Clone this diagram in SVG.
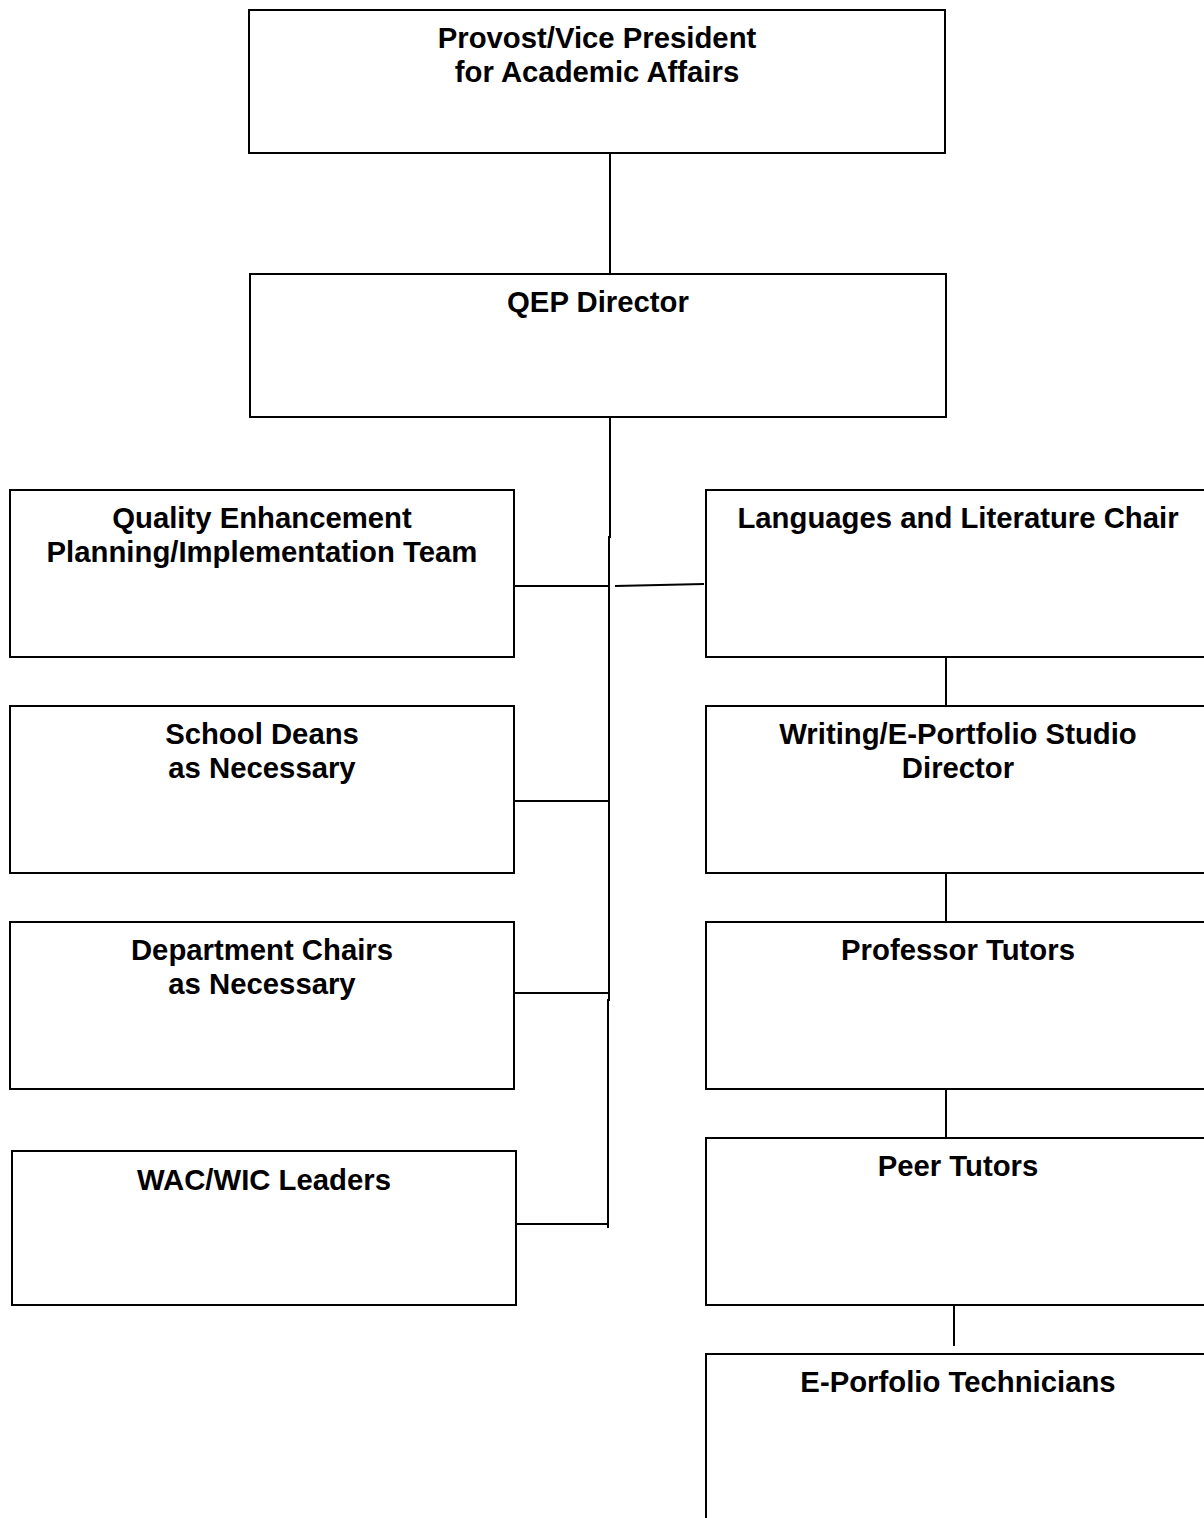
<svg xmlns="http://www.w3.org/2000/svg" width="1204" height="1518" viewBox="0 0 1204 1518">
<style>
.box{fill:#fff;stroke:#000;stroke-width:2}
.t{font-family:"Liberation Sans",Arial,sans-serif;font-weight:bold;font-size:29.3px;text-anchor:middle;fill:#000}
.c{stroke:#000;stroke-width:2;fill:none}
</style>
<rect width="1204" height="1518" fill="#fff"/>
<g id="connectors">
<line class="c" x1="610" y1="153" x2="610" y2="274"/>
<polyline class="c" points="610,417 610,537 609,537 609,1000 608,1000 608,1228"/>
<line class="c" x1="514" y1="586" x2="610" y2="586"/>
<line class="c" x1="615" y1="586" x2="704" y2="584"/>
<line class="c" x1="514" y1="801" x2="610" y2="801"/>
<line class="c" x1="514" y1="993" x2="609" y2="993"/>
<line class="c" x1="512" y1="1224" x2="608" y2="1224"/>
<line class="c" x1="946" y1="657" x2="946" y2="706"/>
<line class="c" x1="946" y1="873" x2="946" y2="922"/>
<line class="c" x1="946" y1="1089" x2="946" y2="1138"/>
<line class="c" x1="954" y1="1305" x2="954" y2="1346"/>
</g>
<g id="provost"><rect class="box" x="249" y="10" width="696" height="143"/><text class="t" x="597" y="48">Provost/Vice President</text><text class="t" x="597" y="82">for Academic Affairs</text></g>
<g id="qep"><rect class="box" x="250" y="274" width="696" height="143"/><text class="t" x="598" y="312">QEP Director</text></g>
<g id="qe-team"><rect class="box" x="10" y="490" width="504" height="167"/><text class="t" x="262" y="528">Quality Enhancement</text><text class="t" x="262" y="562">Planning/Implementation Team</text></g>
<g id="deans"><rect class="box" x="10" y="706" width="504" height="167"/><text class="t" x="262" y="744">School Deans</text><text class="t" x="262" y="778">as Necessary</text></g>
<g id="chairs"><rect class="box" x="10" y="922" width="504" height="167"/><text class="t" x="262" y="960">Department Chairs</text><text class="t" x="262" y="994">as Necessary</text></g>
<g id="wac"><rect class="box" x="12" y="1151" width="504" height="154"/><text class="t" x="264" y="1190">WAC/WIC Leaders</text></g>
<g id="lang"><rect class="box" x="706" y="490" width="504" height="167"/><text class="t" x="958" y="528">Languages and Literature Chair</text></g>
<g id="writing"><rect class="box" x="706" y="706" width="504" height="167"/><text class="t" x="958" y="744">Writing/E-Portfolio Studio</text><text class="t" x="958" y="778">Director</text></g>
<g id="professor"><rect class="box" x="706" y="922" width="504" height="167"/><text class="t" x="958" y="960">Professor Tutors</text></g>
<g id="peer"><rect class="box" x="706" y="1138" width="504" height="167"/><text class="t" x="958" y="1176">Peer Tutors</text></g>
<g id="eportfolio"><rect class="box" x="706" y="1354" width="504" height="200"/><text class="t" x="958" y="1392">E-Porfolio Technicians</text></g>
</svg>
